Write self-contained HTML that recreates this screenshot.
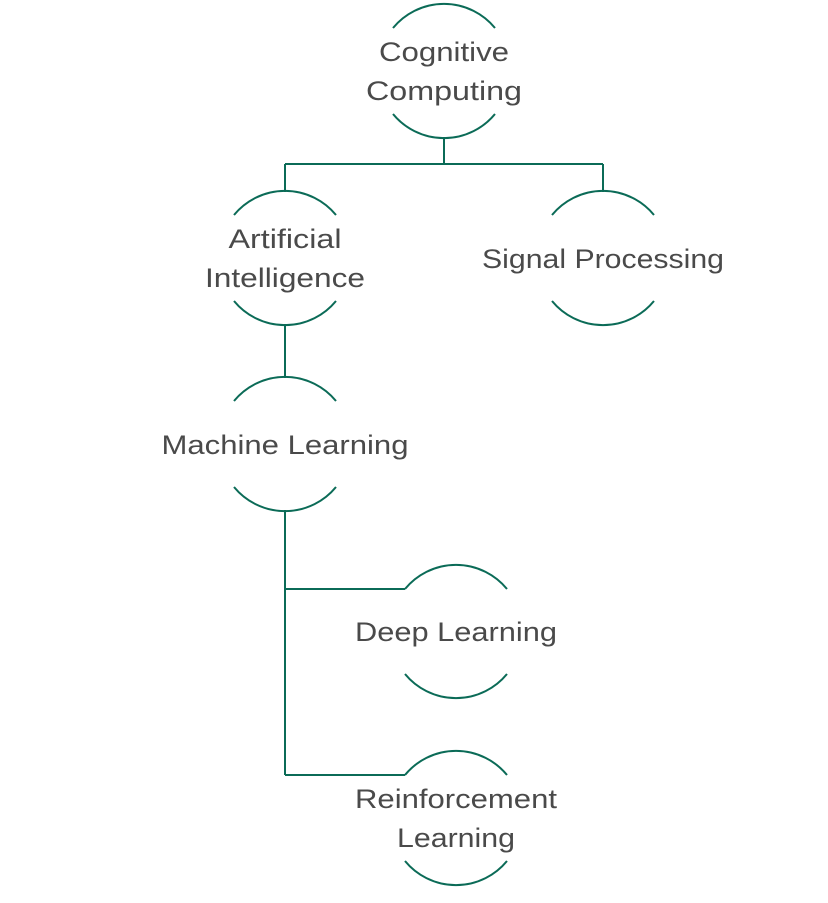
<!DOCTYPE html>
<html><head><style>html,body{margin:0;padding:0;background:#fff;}svg{display:block}</style></head>
<body>
<svg width="828" height="903" viewBox="0 0 828 903" xmlns="http://www.w3.org/2000/svg">
<g fill="none" stroke="#0b6b57" stroke-width="2">
<path d="M444 137V164M285 164H603M285 164V192M603 164V192"/>
<path d="M285 324V378"/>
<path d="M285 510V775M285 589H405M285 775H405"/>
<path d="M393 28A66 66 0 0 1 495 28M393 114A66 66 0 0 0 495 114"/>
<path d="M234 215A66 66 0 0 1 336 215M234 301A66 66 0 0 0 336 301"/>
<path d="M552 215A66 66 0 0 1 654 215M552 301A66 66 0 0 0 654 301"/>
<path d="M234 401A66 66 0 0 1 336 401M234 487A66 66 0 0 0 336 487"/>
<path d="M405 589A66 66 0 0 1 507 589M405 674A66 66 0 0 0 507 674"/>
<path d="M405 775A66 66 0 0 1 507 775M405 861A66 66 0 0 0 507 861"/>
</g>
<g font-family="Liberation Sans, sans-serif" font-size="27" fill="#4a4a4a" text-anchor="middle">
<text x="444" y="61" textLength="130" lengthAdjust="spacingAndGlyphs">Cognitive</text>
<text x="444" y="100" textLength="156" lengthAdjust="spacingAndGlyphs">Computing</text>
<text x="285" y="248" textLength="113" lengthAdjust="spacingAndGlyphs">Artificial</text>
<text x="285" y="287" textLength="160" lengthAdjust="spacingAndGlyphs">Intelligence</text>
<text x="603" y="268" textLength="242" lengthAdjust="spacingAndGlyphs">Signal Processing</text>
<text x="285" y="454" textLength="247" lengthAdjust="spacingAndGlyphs">Machine Learning</text>
<text x="456" y="641" textLength="202" lengthAdjust="spacingAndGlyphs">Deep Learning</text>
<text x="456" y="808" textLength="202" lengthAdjust="spacingAndGlyphs">Reinforcement</text>
<text x="456" y="847" textLength="118" lengthAdjust="spacingAndGlyphs">Learning</text>
</g>
</svg>
</body></html>
